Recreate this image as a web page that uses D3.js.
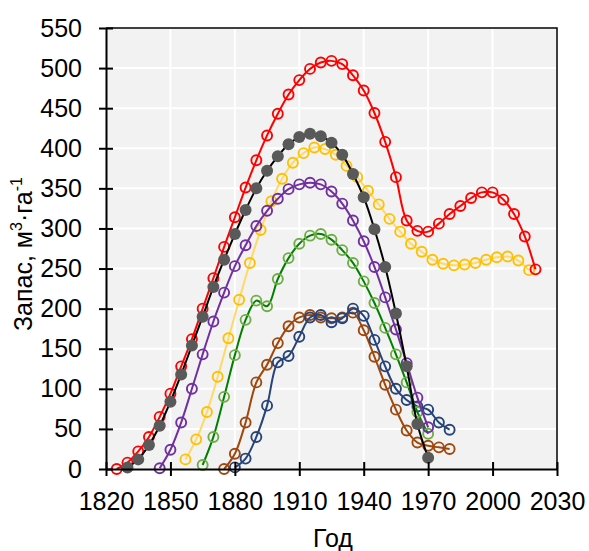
<!DOCTYPE html>
<html>
<head>
<meta charset="utf-8">
<script src="https://d3js.org/d3.v7.min.js"></script>
<style>
  body { margin: 0; background: #fff; }
  text { font-family: "Liberation Sans", Arial, sans-serif; fill: #000; }
</style>
</head>
<body>
<svg id="chart"></svg>
<script>
  // Years for each series (yellow one is shifted by 2 years)
  const redYears = d3.range(1825, 2021, 5);
  const redValues = [0, 8, 22, 40, 65, 94, 128, 162, 200, 238, 277, 314, 351, 385, 416, 443, 467, 485, 499, 507, 509, 505, 491, 472, 444, 408, 364, 310, 297, 296, 306, 318, 328, 338, 345, 345, 336, 318, 290, 249];

  const blackYears = d3.range(1830, 1971, 5);
  const blackValues = [2, 12, 30, 54, 84, 118, 154, 190, 227, 261, 293, 323, 350, 372, 390, 405, 414, 418, 415, 407, 392, 368, 339, 299, 252, 194, 128, 56, 14];

  const yellowYears = d3.range(1857, 2018, 5);
  const yellowValues = [12, 37, 71, 115, 163, 211, 257, 298, 334, 362, 382, 394, 401, 399, 392, 378, 364, 347, 330, 312, 296, 281, 271, 261, 256, 254, 255, 257, 261, 264, 265, 260, 248];

  const purpleYears = d3.range(1845, 1971, 5);
  const purpleValues = [1, 24, 58, 100, 143, 184, 220, 253, 279, 303, 322, 337, 349, 355, 357, 355, 346, 331, 310, 284, 252, 214, 174, 132, 89, 52];

  const greenYears = d3.range(1865, 1971, 5);
  const greenValues = [5, 40, 90, 142, 186, 210, 203, 237, 263, 281, 291, 293, 286, 273, 257, 234, 207, 176, 143, 108, 71, 44];

  const brownYears = d3.range(1875, 1981, 5);
  const brownValues = [0, 19, 58, 108, 130, 157, 178, 189, 192, 189, 188, 189, 195, 173, 140, 105, 74, 48, 33, 29, 27, 25];

  const blueYears = d3.range(1880, 1981, 5);
  const blueValues = [2, 13, 40, 79, 133, 141, 165, 189, 192, 183, 188, 200, 191, 161, 128, 100, 86, 78, 74, 58, 49];

  const xTicks = d3.range(1820, 2031, 30);
  const yTicks = d3.range(0, 551, 50);

  const series = [
    { years: brownYears, values: brownValues, line: "#9E480E", marker: "#9E480E", filled: false },
    { years: blueYears, values: blueValues, line: "#264478", marker: "#264478", filled: false },
    { years: greenYears, values: greenValues, line: "#008000", marker: "#70AD47", filled: false },
    { years: yellowYears, values: yellowValues, line: "#FFD966", marker: "#FFC000", filled: false },
    { years: purpleYears, values: purpleValues, line: "#7030A0", marker: "#7030A0", filled: false },
    { years: redYears, values: redValues, line: "#FF0000", marker: "#FF0000", filled: false },
    { years: blackYears, values: blackValues, line: "#000000", marker: "#595959", filled: true }
  ];

  const width = 589, height = 551;
  const plotLeft = 106, plotRight = 557, plotTop = 28, plotBottom = 469;
  const fontSize = 25;

  const svg = d3.select("#chart").attr("width", width).attr("height", height);

  const x = d3.scaleLinear().domain([1820, 2030]).range([plotLeft, plotRight]);
  const y = d3.scaleLinear().domain([0, 550]).range([plotBottom, plotTop]);

  // plot background
  svg.append("rect")
    .attr("x", plotLeft).attr("y", plotTop)
    .attr("width", plotRight - plotLeft).attr("height", plotBottom - plotTop)
    .attr("fill", "#f2f2f2");

  // grid
  svg.append("g").selectAll("line").data(yTicks).enter().append("line")
    .attr("x1", plotLeft).attr("x2", plotRight)
    .attr("y1", d => y(d)).attr("y2", d => y(d))
    .attr("stroke", "#fff").attr("stroke-width", 2);
  svg.append("g").selectAll("line").data(xTicks).enter().append("line")
    .attr("y1", plotTop).attr("y2", plotBottom)
    .attr("x1", d => x(d)).attr("x2", d => x(d))
    .attr("stroke", "#fff").attr("stroke-width", 2);

  // frame on top and right
  svg.append("path")
    .attr("d", `M${plotLeft},${plotTop}H${plotRight}V${plotBottom}`)
    .attr("fill", "none").attr("stroke", "#000").attr("stroke-width", 1.5);

  const line = d3.line().curve(d3.curveCatmullRom.alpha(0.5));

  series.forEach(s => {
    const pts = s.years.map((yr, i) => [x(yr), y(s.values[i])]);
    svg.append("path")
      .attr("d", line(pts))
      .attr("fill", "none")
      .attr("stroke", s.line)
      .attr("stroke-width", 2);
    svg.append("g").selectAll("circle").data(pts).enter().append("circle")
      .attr("cx", d => d[0]).attr("cy", d => d[1])
      .attr("r", s.filled ? 6 : 5)
      .attr("fill", s.filled ? s.marker : "none")
      .attr("stroke", s.marker)
      .attr("stroke-width", s.filled ? 0 : 1.9);
  });

  // axes
  const xAxis = d3.axisBottom(x).tickValues(xTicks).tickSizeInner(7).tickSizeOuter(0).tickPadding(16).tickFormat(d3.format("d"));
  const gx = svg.append("g").attr("transform", `translate(0,${plotBottom})`).call(xAxis);
  gx.select(".domain").attr("stroke", "#000").attr("stroke-width", 2);
  gx.selectAll(".tick line").attr("y1", -7).attr("stroke-width", 2);
  gx.selectAll(".tick text").attr("font-size", fontSize).attr("font-family", "Liberation Sans, Arial, sans-serif");

  const yAxis = d3.axisLeft(y).tickValues(yTicks).tickSizeInner(7).tickSizeOuter(0).tickPadding(17);
  const gy = svg.append("g").attr("transform", `translate(${plotLeft},0)`).call(yAxis);
  gy.select(".domain").attr("stroke", "#000").attr("stroke-width", 2);
  gy.selectAll(".tick line").attr("x1", 7).attr("stroke-width", 2);
  gy.selectAll(".tick text").attr("font-size", fontSize).attr("font-family", "Liberation Sans, Arial, sans-serif");

  // axis titles
  svg.append("text")
    .attr("x", 333).attr("y", 547)
    .attr("text-anchor", "middle").attr("font-size", fontSize)
    .text("Год");

  const yt = svg.append("text")
    .attr("transform", "translate(32,331) rotate(-90)")
    .attr("text-anchor", "start").attr("font-size", fontSize);
  yt.append("tspan").text("Запас, м");
  yt.append("tspan").attr("font-size", 16).attr("dy", -10).text("3");
  yt.append("tspan").attr("dy", 10).text("·га");
  yt.append("tspan").attr("font-size", 16).attr("dy", -10).text("-1");
</script>
</body>
</html>
